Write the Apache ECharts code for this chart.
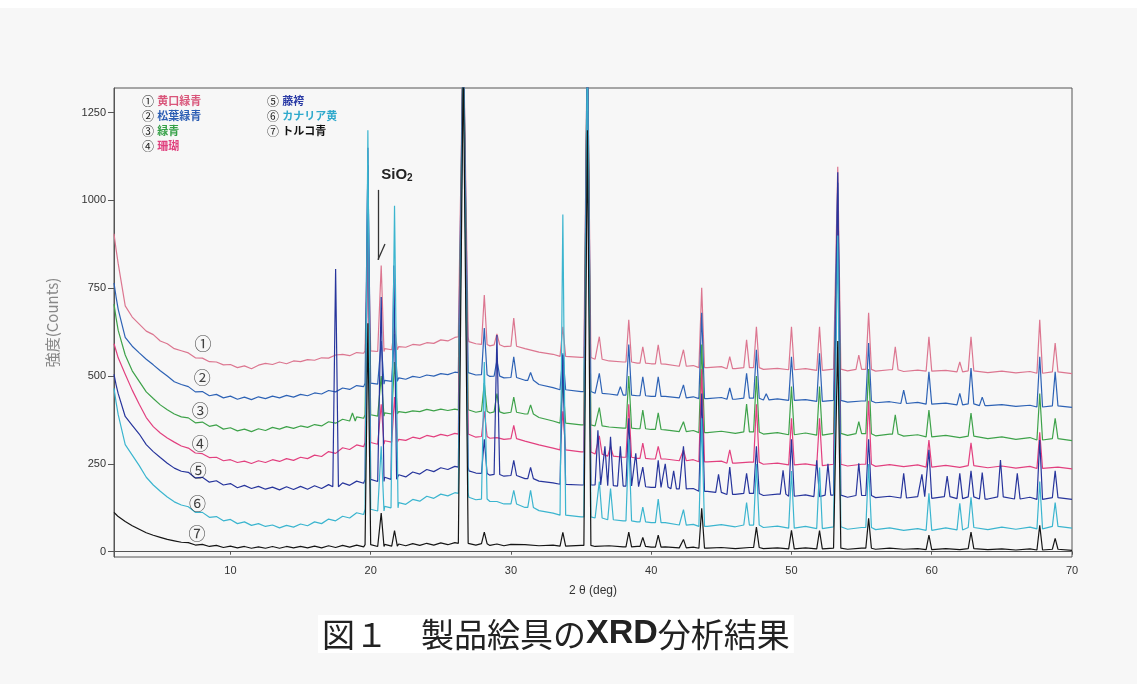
<!DOCTYPE html>
<html><head><meta charset="utf-8">
<script src="https://cdn.jsdelivr.net/npm/echarts@6/dist/echarts.min.js"></script>
<style>html,body{margin:0;padding:0;background:#f7f7f7}#c{width:1137px;height:684px}</style>
</head><body><div id="c"></div>
<script>
// ---- data ----
const seriesNames = ['黄口緑青','松葉緑青','緑青','珊瑚','藤袴','カナリア黄','トルコ青'];
const seriesMarks = ['①','②','③','④','⑤','⑥','⑦'];
const xTicks = [10,20,30,40,50,60,70];
const yTicks = [0,250,500,750,1000,1250];

const baseX = [1.7,1.85,
 2,2.5,3,3.5,4,4.5,5,5.5,6,6.5,
 7,7.5,8,8.5,9,9.5,10,10.5,11,11.5,
 12,12.5,13,13.5,14,14.5,15,15.5,16,16.5,
 17,17.5,18,18.5,19,19.5,20,20.5,21,21.5,
 22,22.5,23,23.5,24,24.5,25,25.5,26,26.5,
 27,27.5,28,28.5,29,29.5,30,
 31,32,33,34,35,36,37,38,39,40,
 41,42,43,44,45,46,47,48,49,50,
 51,52,53,54,55,56,57,58,59,60,
 61,62,63,64,65,66,67,68,69,70];

const base1 = [905,860,
 820,700,668,648,628,618,600,592,578,572,
 566,552,551,541,540,532,533,524,529,521,
 531,536,533,540,535,543,541,547,545,552,
 551,560,562,558,567,565,572,570,578,575,
 584,582,590,588,595,593,603,600,610,612,
 598,592,590,586,589,584,585,
 578,568,562,556,553,548,543,540,537,535,
 534,528,530,524,527,521,524,519,522,518,
 521,516,520,515,519,514,518,513,517,514,
 516,512,515,510,514,509,513,508,512,507];
const base2 = [765,725,
 690,610,585,566,548,532,515,500,484,476,
 470,455,456,444,448,438,443,434,440,433,
 441,436,443,438,445,440,448,444,452,449,
 459,455,466,462,473,470,480,477,488,485,
 495,491,499,496,503,500,507,504,511,510,
 507,503,504,499,500,495,496,
 488,476,467,461,456,451,449,446,444,442,
 442,438,441,436,439,434,437,432,435,431,
 433,428,431,426,429,424,427,422,425,420,
 423,418,421,416,419,414,417,412,415,411];
const base3 = [705,665,
 630,560,515,485,455,436,418,404,392,384,
 381,367,369,357,361,349,353,344,349,342,
 350,345,354,349,356,351,358,354,362,358,
 370,366,377,372,384,380,390,386,395,392,
 399,396,401,399,405,401,406,402,406,404,
 402,397,400,395,398,394,397,
 392,382,372,366,361,358,355,352,350,348,
 347,342,345,339,343,337,341,335,339,333,
 338,332,337,331,336,330,335,329,333,327,
 331,325,329,322,327,320,325,318,322,316];
const base4 = [592,572,
 552,505,460,420,382,356,338,324,312,301,
 295,281,279,268,269,259,262,254,258,251,
 259,254,262,257,265,260,269,265,275,271,
 285,280,296,291,304,299,311,306,316,312,
 320,317,326,322,331,327,334,330,337,335,
 331,326,328,323,325,320,322,
 315,304,295,290,284,278,272,269,266,264,
 264,259,262,256,258,252,255,249,252,247,
 250,245,249,244,249,243,248,242,247,241,
 246,240,245,239,244,238,243,237,241,236];
const base5 = [505,475,
 450,385,360,335,305,285,268,252,238,229,
 226,210,212,198,202,190,194,182,189,180,
 186,178,184,176,185,177,186,178,188,180,
 191,185,196,189,201,195,206,200,212,206,
 219,213,227,221,234,228,239,234,243,241,
 230,224,223,218,220,215,217,
 208,201,196,192,190,190,188,187,185,183,
 184,179,180,172,169,163,166,160,164,158,
 162,157,161,155,160,154,158,153,157,152,
 157,151,156,150,156,150,155,149,154,149];
const base6 = [465,425,
 390,305,275,245,212,190,172,156,142,133,
 128,112,112,98,100,88,92,80,85,75,
 80,72,76,68,75,70,79,74,85,80,
 93,88,101,96,111,106,121,116,129,125,
 140,135,149,144,158,152,164,159,168,166,
 155,148,150,143,143,136,136,
 126,117,110,104,99,96,91,88,85,83,
 83,76,78,72,77,71,76,69,73,67,
 72,66,71,64,69,63,68,61,66,61,
 68,62,69,63,70,64,70,65,72,67];
const base7 = [112,106,
 100,86,74,64,54,47,41,35,31,27,
 26,19,21,15,18,12,16,11,15,10,
 14,10,15,10,15,11,15,11,16,11,
 17,12,18,13,19,14,20,15,21,16,
 22,17,23,18,24,19,25,20,26,24,
 24,19,23,18,22,17,21,
 20,17,19,16,18,15,17,14,15,13,
 14,11,13,10,12,9,12,9,11,8,
 11,8,10,7,10,7,10,7,9,6,
 9,6,9,6,8,5,8,5,7,4];

// peaks: [2theta, top count, half width (optional)]
const peaks1 = [[19.8,940],[20.75,815],[21.7,640],[26.6,1500,0.35],[28.1,731],[29.0,620],[30.2,665],[33.7,640],
 [35.45,1500,0.25],[36.3,612],[38.4,660],[39.4,583],[40.5,589],[42.3,575],[43.6,751],[45.6,555],[46.8,603],
 [47.5,640],[50.0,640],[52.0,640],[53.3,1096,0.22],[54.8,560],[55.5,680],[57.4,583],[59.8,612],[62.0,540],
 [62.8,612],[67.7,660],[68.8,594]];
const peaks2 = [[19.8,1100],[20.75,600],[21.7,620],[26.6,1500,0.35],[28.1,637],[29.0,545],[30.2,555],[31.4,510],
 [33.7,565],[35.45,1500,0.25],[36.3,508],[37.8,470],[38.4,590],[39.4,498],[40.5,498],[42.3,475],[43.6,680],
 [45.6,466],[46.8,508],[47.5,575],[48.2,450],[50.0,555],[52.0,565],[53.3,1050,0.22],[55.5,594],[58.0,460],
 [59.8,512],[62.0,451],[62.8,523],[63.6,440],[67.7,555],[68.8,512]];
const peaks3 = [[18.7,395],[19.8,950],[20.75,500],[21.7,540],[26.6,1500,0.35],[28.1,480],[29.0,450],[30.2,440],
 [31.4,418],[33.7,480],[35.45,1500,0.25],[36.3,410],[38.4,500],[39.4,403],[40.5,395],[42.3,370],[43.6,590],
 [46.8,420],[47.5,500],[50.0,470],[52.0,470],[53.3,950,0.22],[54.8,370],[55.5,520],[57.4,390],[59.8,403],
 [62.8,395],[67.7,450],[68.8,380]];
const peaks4 = [[19.8,880],[20.75,420],[21.7,440],[26.6,1500,0.35],[28.1,400],[30.2,360],[33.7,400],
 [35.45,1500,0.25],[36.3,330],[37.1,300],[38.4,420],[39.4,309],[40.5,300],[42.3,290],[43.6,520],[45.6,290],
 [47.5,420],[50.0,380],[52.0,380],[53.3,1000,0.22],[55.5,430],[59.8,318],[62.8,310],[67.7,340]];
const peaks5 = [[17.5,805],[19.8,1150],[20.75,725],[21.65,815],[26.6,1500,0.35],[28.1,320],[29.0,617],[30.2,260],
 [31.4,240],[33.7,560],[35.45,1500,0.25],[36.2,346],[36.7,300],[37.1,327],[37.8,300],[38.4,380],[38.9,280],
 [39.4,241],[40.5,260],[41.0,250],[41.6,230],[42.3,300],[43.6,450],[44.8,220],[45.6,241],[46.8,223],[47.5,300],
 [49.4,232],[50.0,320],[51.8,260],[52.6,250],[53.3,1080,0.22],[54.8,252],[55.5,320],[58.0,223],[59.3,220],
 [59.8,290],[61.1,215],[62.0,223],[62.8,230],[63.6,225],[64.9,261],[66.1,223],[67.7,318],[68.8,230]];
const peaks6 = [[19.8,1200],[20.75,300],[21.7,985,0.25],[26.6,1500,0.35],[28.1,540],[30.2,175],[31.4,175],
 [33.7,960],[35.45,1500,0.25],[36.3,200],[37.1,180],[38.4,320],[39.4,127],[40.5,150],[42.3,120],[43.6,380],
 [46.8,140],[47.5,250],[50.0,230],[52.0,240],[53.3,900,0.22],[55.5,250],[59.8,166],[62.0,138],[62.8,155],
 [67.7,200],[68.8,140]];
const peaks7 = [[19.8,650],[20.75,110],[21.7,60],[26.6,1400,0.35],[28.1,56],[33.7,55],[35.45,1200,0.25],
 [38.4,56],[39.4,41],[40.5,47],[42.3,35],[43.6,124],[47.5,70],[50.0,61],[52.0,60],[53.3,600,0.22],[55.5,95],
 [59.8,47],[62.8,56],[67.7,75],[68.8,38]];

// on-chart curve labels
const curveLabelX = [8.05,8.0,7.85,7.85,7.7,7.65,7.62];
const curveLabelY = [594,497,403,309,232,138,53];

// ---- build ----
const HW = 0.2;
const seriesColors = ['#dc7690','#2d62b5','#3ea24a','#e2407f','#27359c','#3bb5cf','#151515'];
const legendColors = ['#d9557a','#2b5db3','#34a046','#e0407e','#2a3aa5','#2fa9cc','#111111'];
const bases = [base1,base2,base3,base4,base5,base6,base7];
const peaks = [peaks1,peaks2,peaks3,peaks4,peaks5,peaks6,peaks7];

function build(base, pk) {
  const pts = [];
  const wins = pk.map(p => [p[0] - (p[2] || HW), p[0] + (p[2] || HW)]);
  baseX.forEach((x, i) => {
    if (!wins.some(w => x > w[0] && x < w[1])) pts.push([x, base[i]]);
  });
  pk.forEach(p => {
    const hw = p[2] || HW;
    let k = 0, best = 1e9;
    baseX.forEach((x, i) => { const d = Math.abs(x - p[0]); if (d < best) { best = d; k = i; } });
    const foot = base[k];
    pts.push([p[0] - hw, foot], [p[0], p[1]], [p[0] + hw, foot]);
  });
  pts.sort((a, b) => a[0] - b[0]);
  return pts;
}

const lineSeries = seriesNames.map((n, i) => ({
  name: n, type: 'line', data: build(bases[i], peaks[i]),
  showSymbol: false, symbol: 'none', smooth: false,
  lineStyle: { width: 1.2, color: seriesColors[i] },
  itemStyle: { color: seriesColors[i] },
  emphasis: { disabled: true }, z: 2
}));

const labelSeries = {
  name: 'labels', type: 'scatter', symbolSize: 1,
  itemStyle: { color: 'rgba(0,0,0,0)' },
  data: seriesMarks.map((m, i) => [curveLabelX[i], curveLabelY[i], m]),
  label: { show: true, position: 'inside', formatter: p => p.data[2], fontSize: 17, color: '#111',
    fontFamily: 'Noto Sans CJK JP' },
  z: 5, silent: true,
  markLine: {
    silent: true, symbol: 'none', animation: false,
    lineStyle: { color: '#333', width: 1.3, type: 'solid' }, label: { show: false },
    data: [
      [{ coord: [20.52, 1030] }, { coord: [20.52, 831] }],
      [{ coord: [20.52, 831] }, { coord: [21.02, 876] }]
    ]
  },
  markPoint: {
    silent: true, symbol: 'circle', symbolSize: 0,
    data: [{ coord: [21.87, 1073] }],
    label: { show: true, position: 'inside', formatter: '{a|SiO}{b|2}',
      rich: { a: { fontSize: 15, fontWeight: 'bold', color: '#222', fontFamily: 'Liberation Sans' },
              b: { fontSize: 10, fontWeight: 'bold', color: '#222', fontFamily: 'Liberation Sans', padding: [6, 0, 0, 0] } } }
  }
};

function legendItem(i) {
  return { name: seriesNames[i], icon: 'none',
    textStyle: { rich: {
      n: { color: '#222', fontSize: 12, fontFamily: 'Noto Sans CJK JP' },
      t: { color: legendColors[i], fontSize: 11, fontWeight: 'bold', fontFamily: 'Noto Sans CJK JP' } } } };
}
const legendCommon = {
  orient: 'vertical', itemWidth: 0, itemHeight: 11, itemGap: 3, selectedMode: false,
  formatter: name => '{n|' + seriesMarks[seriesNames.indexOf(name)] + '} {t|' + name + '}'
};

const option = {
  backgroundColor: '#f7f7f7',
  animation: false,
  title: {
    text: '{a|図１　}{a|製品絵具の}{b|XRD}{a|分析結果}',
    left: 318, top: 612, padding: [2, 4],
    backgroundColor: '#ffffff',
    textStyle: { rich: {
      a: { fontSize: 33, color: '#222', fontFamily: 'Noto Sans CJK JP', fontWeight: 'normal', lineHeight: 40 },
      b: { fontSize: 34, color: '#222', fontFamily: 'Liberation Sans', fontWeight: 'bold', lineHeight: 40 } } }
  },
  graphic: [{ type: 'rect', left: 0, top: 0, shape: { width: 1137, height: 8 }, style: { fill: '#ffffff' }, silent: true }],
  legend: [
    Object.assign({ left: 132, top: 90, data: [0,1,2,3].map(legendItem) }, legendCommon),
    Object.assign({ left: 257, top: 90, data: [4,5,6].map(legendItem) }, legendCommon)
  ],
  grid: { left: 114, right: 65, top: 88, bottom: 127, show: true, borderColor: '#555', borderWidth: 1,
    backgroundColor: 'transparent' },
  xAxis: {
    type: 'value', min: 1.7, max: 70,
    axisLine: { show: true, lineStyle: { color: '#555' } },
    axisTick: { show: true, customValues: xTicks, length: 3, lineStyle: { color: '#555' } },
    axisLabel: { customValues: xTicks, fontSize: 11, color: '#333', margin: 8, fontFamily: 'Liberation Sans',
      formatter: v => String(v) },
    splitLine: { show: false },
    name: '2 θ (deg)', nameLocation: 'middle', nameGap: 28,
    nameTextStyle: { fontSize: 12, color: '#333', fontFamily: 'Liberation Sans' }
  },
  yAxis: {
    type: 'value', min: -15, max: 1320,
    axisLine: { show: true, lineStyle: { color: '#555' } },
    axisTick: { show: true, customValues: yTicks, length: 6, lineStyle: { color: '#555' } },
    axisLabel: { customValues: yTicks, fontSize: 11, color: '#333', margin: 8, fontFamily: 'Liberation Sans',
      formatter: v => String(v) },
    splitLine: { show: false },
    name: '強度(Counts)', nameLocation: 'middle', nameGap: 54,
    nameTextStyle: { fontSize: 15, color: '#888', fontFamily: 'Noto Sans CJK JP' }
  },
  series: lineSeries.concat([labelSeries])
};

const chart = echarts.init(document.getElementById('c'), null, { renderer: 'canvas' });
chart.setOption(option);
</script>
</body></html>
